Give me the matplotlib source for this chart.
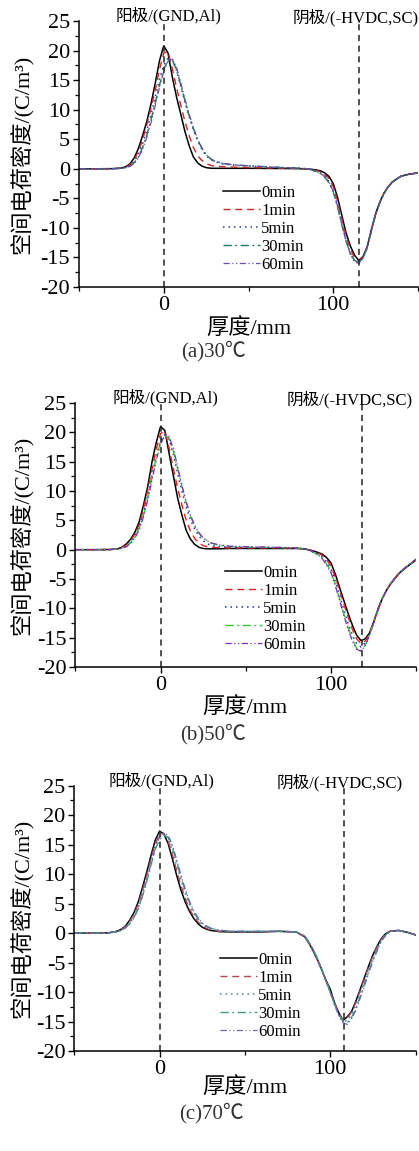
import matplotlib
matplotlib.use('Agg')
import matplotlib.pyplot as plt
from matplotlib.ticker import MultipleLocator, FixedLocator

plt.rcParams['font.family'] = ['Liberation Serif', 'Noto Sans CJK SC']
plt.rcParams['axes.unicode_minus'] = False

# ---------------- data ----------------
thickness = [-50, -40, -30,
             -25, -22.5, -20, -17.5, -15, -12.5, -10, -7.5, -5, -2.5, 0, 2.5, 5, 7.5, 10, 12.5, 15, 17.5, 20, 22.5, 25, 27.5, 30,
             35, 40, 45, 50, 60, 70, 80,
             85, 87.5, 90, 92.5, 95, 97.5, 100, 102.5, 105, 107.5, 110, 112.5, 115, 117.5, 120, 122.5, 125, 127.5, 130, 132.5, 135,
             140, 145, 150]
labels = ['0min', '1min', '5min', '30min', '60min']

# (a) 30 C
a_0min = [0, 0, 0.02,
          0.1, 0.35, 0.8, 1.8, 3.4, 5.6, 8.0, 11.0, 14.5, 18.3, 20.8, 19.6, 15.6, 12.2, 9.3, 6.3, 3.9, 2.0, 1.0, 0.45, 0.2, 0.1, 0.08,
          0.08, 0.08, 0.08, 0.08, 0.06, 0.05, 0.02,
          -0.05, -0.1, -0.2, -0.35, -0.7, -1.3, -2.5, -4.8, -7.8, -10.8, -13.0, -14.6, -15.5, -14.9, -13.2, -10.3, -7.6, -5.6, -4.1, -3.0, -2.2,
          -1.25, -0.9, -0.7]
a_1min = [0, 0, 0.02,
          0.1, 0.3, 0.65, 1.5, 2.9, 4.9, 7.4, 10.3, 13.4, 16.8, 19.6, 19.8, 17.0, 13.8, 10.8, 8.0, 5.6, 3.6, 2.2, 1.4, 0.9, 0.6, 0.45,
          0.35, 0.3, 0.25, 0.2, 0.15, 0.1, 0.05,
          -0.05, -0.15, -0.3, -0.5, -0.9, -1.7, -3.0, -5.4, -8.4, -11.3, -13.5, -15.0, -15.6, -15.0, -13.3, -10.4, -7.7, -5.7, -4.1, -3.0, -2.2,
          -1.25, -0.9, -0.7]
a_5min = [0, 0, 0.02,
          0.1, 0.25, 0.5, 1.2, 2.4, 4.2, 6.5, 9.2, 12.2, 15.2, 17.5, 18.7, 18.5, 16.7, 14.0, 11.3, 8.8, 6.6, 4.7, 3.3, 2.2, 1.6, 1.2,
          0.8, 0.65, 0.55, 0.45, 0.3, 0.2, 0.1,
          0.0, -0.15, -0.4, -0.7, -1.2, -2.2, -3.7, -6.2, -9.2, -12.0, -14.2, -15.5, -15.9, -15.2, -13.4, -10.5, -7.7, -5.7, -4.1, -3.0, -2.2,
          -1.25, -0.9, -0.7]
a_30min = [0, 0, 0.02,
           0.1, 0.2, 0.4, 1.0, 2.0, 3.6, 5.7, 8.3, 11.2, 14.2, 16.8, 18.4, 18.4, 16.8, 14.2, 11.5, 9.0, 6.8, 4.9, 3.5, 2.4, 1.7, 1.3,
           0.9, 0.7, 0.6, 0.5, 0.35, 0.2, 0.1,
           0.0, -0.2, -0.5, -0.8, -1.4, -2.4, -3.9, -6.4, -9.4, -12.2, -14.3, -15.5, -15.8, -15.1, -13.3, -10.4, -7.7, -5.7, -4.1, -3.0, -2.2,
           -1.25, -0.9, -0.7]
a_60min = [0, 0, 0.02,
           0.1, 0.2, 0.4, 0.9, 1.8, 3.3, 5.3, 7.8, 10.7, 13.8, 16.5, 18.2, 18.6, 17.2, 14.6, 11.8, 9.2, 6.9, 5.0, 3.5, 2.4, 1.7, 1.3,
           0.9, 0.7, 0.6, 0.5, 0.35, 0.2, 0.1,
           0.0, -0.2, -0.5, -0.8, -1.3, -2.3, -3.8, -6.3, -9.3, -12.2, -14.4, -15.7, -16.0, -15.2, -13.4, -10.5, -7.8, -5.7, -4.1, -3.0, -2.2,
           -1.25, -0.9, -0.7]

# (b) 50 C
b_0min = [0, 0, 0.02,
          0.15, 0.45, 1.0, 1.8, 3.0, 4.8, 7.6, 10.8, 15.0, 18.3, 21.0, 20.3, 16.4, 12.6, 8.8, 5.9, 3.3, 1.8, 0.9, 0.4, 0.2, 0.15, 0.15,
          0.15, 0.2, 0.2, 0.2, 0.2, 0.2, 0.2,
          0.1, -0.05, -0.25, -0.5, -0.8, -1.4, -2.3, -4.2, -6.5, -8.7, -10.9, -12.9, -14.6, -15.5, -15.2, -14.2, -12.3, -10.1, -8.3, -6.9, -5.8,
          -4.0, -2.8, -1.7]
b_1min = [0, 0, 0.02,
          0.1, 0.4, 0.8, 1.6, 2.7, 4.3, 7.0, 10.2, 13.8, 17.2, 19.8, 20.2, 17.3, 13.8, 10.5, 7.6, 5.0, 3.2, 1.9, 1.1, 0.7, 0.5, 0.4,
          0.35, 0.3, 0.3, 0.3, 0.3, 0.3, 0.25,
          0.1, -0.1, -0.3, -0.6, -1.0, -1.8, -2.8, -4.7, -7.0, -9.3, -11.5, -13.6, -15.2, -16.0, -15.6, -14.3, -12.3, -10.1, -8.3, -6.9, -5.7,
          -3.9, -2.7, -1.6]
b_5min = [0, 0, 0.02,
          0.1, 0.3, 0.6, 1.3, 2.3, 3.8, 6.2, 9.2, 12.6, 16.0, 18.6, 19.6, 18.8, 16.2, 13.0, 10.0, 7.3, 5.1, 3.5, 2.3, 1.5, 1.0, 0.7,
          0.5, 0.45, 0.4, 0.4, 0.4, 0.35, 0.3,
          0.1, -0.1, -0.4, -0.8, -1.3, -2.2, -3.4, -5.4, -7.8, -10.3, -12.6, -14.6, -16.0, -16.6, -15.9, -14.4, -12.4, -10.2, -8.3, -6.9, -5.7,
          -3.9, -2.7, -1.6]
b_30min = [0, 0, 0.02,
           0.1, 0.3, 0.6, 1.2, 2.2, 3.7, 6.0, 9.0, 12.4, 15.8, 18.4, 19.5, 19.0, 16.8, 13.8, 10.8, 8.0, 5.8, 4.0, 2.8, 2.0, 1.5, 1.1,
           0.7, 0.55, 0.5, 0.45, 0.4, 0.35, 0.3,
           0.1, -0.15, -0.5, -0.9, -1.5, -2.5, -3.8, -5.9, -8.4, -11.0, -13.3, -15.3, -16.8, -17.2, -16.3, -14.6, -12.5, -10.3, -8.4, -6.9, -5.7,
           -3.9, -2.7, -1.6]
b_60min = [0, 0, 0.02,
           0.1, 0.25, 0.5, 1.1, 2.0, 3.4, 5.6, 8.5, 11.9, 15.3, 18.0, 19.5, 19.3, 17.2, 14.2, 11.0, 8.2, 5.9, 4.1, 2.9, 2.0, 1.5, 1.1,
           0.8, 0.6, 0.55, 0.5, 0.45, 0.4, 0.3,
           0.1, -0.15, -0.5, -0.9, -1.6, -2.7, -4.0, -6.2, -8.7, -11.3, -13.6, -15.6, -17.0, -17.3, -16.4, -14.6, -12.5, -10.3, -8.4, -6.9, -5.7,
           -3.9, -2.7, -1.6]

# (c) 70 C
c_0min = [0, 0, 0.05,
          0.3, 0.65, 1.2, 2.2, 3.5, 5.3, 7.8, 10.4, 13.2, 15.8, 17.3, 16.8, 15.2, 12.6, 9.8, 7.3, 5.3, 3.7, 2.5, 1.6, 1.0, 0.65, 0.45,
          0.25, 0.2, 0.2, 0.2, 0.2, 0.3, 0.2,
          -0.6, -1.7, -3.0, -4.5, -6.2, -8.0, -9.5, -11.8, -13.5, -14.8, -14.2, -13.3, -11.6, -9.6, -7.6, -5.6, -3.7, -2.2, -0.9, -0.1, 0.3,
          0.45, 0.15, -0.3]
c_1min = [0, 0, 0.05,
          0.3, 0.6, 1.1, 2.0, 3.2, 4.9, 7.3, 9.9, 12.7, 15.2, 16.8, 16.9, 15.6, 13.3, 10.6, 8.1, 5.9, 4.1, 2.8, 1.9, 1.2, 0.8, 0.5,
          0.3, 0.25, 0.25, 0.25, 0.25, 0.3, 0.2,
          -0.6, -1.7, -2.9, -4.5, -6.2, -8.0, -9.9, -11.9, -13.6, -14.8, -14.4, -13.4, -11.8, -9.8, -7.8, -5.8, -3.9, -2.3, -1.0, -0.2, 0.3,
          0.45, 0.15, -0.3]
c_5min = [0, 0, 0.05,
          0.25, 0.5, 1.0, 1.8, 2.9, 4.5, 6.8, 9.4, 12.2, 14.8, 16.5, 16.9, 16.0, 14.0, 11.5, 9.0, 6.7, 4.8, 3.3, 2.2, 1.5, 1.0, 0.7,
          0.4, 0.3, 0.3, 0.3, 0.3, 0.3, 0.2,
          -0.5, -1.6, -2.9, -4.5, -6.3, -8.2, -10.1, -12.1, -13.9, -15.0, -14.8, -13.8, -12.2, -10.2, -8.2, -6.1, -4.2, -2.5, -1.1, -0.2, 0.3,
          0.45, 0.15, -0.3]
c_30min = [0, 0, 0.05,
           0.2, 0.45, 0.9, 1.6, 2.6, 4.1, 6.3, 8.8, 11.6, 14.2, 15.9, 16.6, 16.2, 14.5, 12.1, 9.5, 7.2, 5.2, 3.6, 2.4, 1.6, 1.1, 0.8,
           0.45, 0.35, 0.3, 0.3, 0.3, 0.3, 0.2,
           -0.5, -1.5, -2.7, -4.3, -6.1, -8.0, -10.0, -12.0, -13.8, -15.0, -15.2, -14.3, -12.8, -10.8, -8.7, -6.6, -4.6, -2.8, -1.3, -0.3, 0.3,
           0.45, 0.15, -0.3]
c_60min = [0, 0, 0.05,
           0.2, 0.45, 0.9, 1.6, 2.7, 4.2, 6.4, 9.0, 11.8, 14.5, 16.3, 17.0, 16.6, 14.9, 12.5, 9.9, 7.5, 5.4, 3.8, 2.6, 1.7, 1.2, 0.85,
           0.5, 0.35, 0.3, 0.3, 0.3, 0.3, 0.2,
           -0.5, -1.5, -2.8, -4.4, -6.2, -8.1, -10.1, -12.1, -14.0, -15.2, -15.5, -14.6, -13.1, -11.1, -9.0, -6.9, -4.8, -3.0, -1.4, -0.4, 0.25,
           0.45, 0.15, -0.3]

anode_pos = 0
cathode_pos = [115.3, 118.2, 107.8]
captions = ['(a)30\u2103', '(b)50\u2103', '(c)70\u2103']

# ---------------- layout ----------------
W, H = 419, 1151
fig = plt.figure(figsize=(W / 100, H / 100), dpi=100)

def fx(px):
    return px / W

def fy(py):
    return 1 - py / H

styles = [
    dict(ls='-', lw=1.1),
    dict(ls=(0, (5, 3.5)), lw=1.0),
    dict(ls=(0, (1, 2.6)), lw=1.1),
    dict(ls=(0, (6, 2.5, 1.3, 2.5)), lw=1.0),
    dict(ls=(0, (5, 2, 1, 2, 1, 2)), lw=0.9),
]

panels = [
    dict(box=(79, 21, 418, 287), series=[a_0min, a_1min, a_5min, a_30min, a_60min],
         colors=['#000000', '#c62828', '#23409a', '#1f7a55', '#6b4fa8'],
         leg=(0.425, 0.385), xlab=(249, 328), cap=(214, 351), anode_dx=5, cath_dx=-3),
    dict(box=(75.3, 403, 416.4, 667), series=[b_0min, b_1min, b_5min, b_30min, b_60min],
         colors=['#000000', '#e0201f', '#2233aa', '#33c833', '#8a2bc0'],
         leg=(0.439, 0.388), xlab=(245, 707), cap=(213, 734), anode_dx=5, cath_dx=-12),
    dict(box=(74.3, 785.7, 415.5, 1051), series=[c_0min, c_1min, c_5min, c_30min, c_60min],
         colors=['#000000', '#b5434f', '#4a7fa5', '#3f9b7f', '#6767ad'],
         leg=(0.427, 0.375), xlab=(245, 1087), cap=(212, 1113), anode_dx=2, cath_dx=-4),
]

for i, p in enumerate(panels):
    l, t, r, b = p['box']
    ax = fig.add_axes([fx(l), fy(b), (r - l) / W, (b - t) / H])
    for ser, col, st, lab in zip(p['series'], p['colors'], styles, labels):
        ax.plot(thickness, ser, color=col, linestyle=st['ls'], lw=st['lw'], label=lab)
    ax.axvline(anode_pos, color='#222222', ls=(0, (4, 3)), lw=1.1)
    ax.axvline(cathode_pos[i], color='#222222', ls=(0, (4, 3)), lw=1.1)
    ax.set_xlim(-50, 150)
    ax.set_ylim(-20, 25)
    ax.xaxis.set_major_locator(FixedLocator([0, 100]))
    ax.xaxis.set_minor_locator(FixedLocator([-50, 50, 150]))
    ax.yaxis.set_major_locator(MultipleLocator(5))
    ax.yaxis.set_minor_locator(MultipleLocator(2.5))
    for s in ['top', 'right']:
        ax.spines[s].set_visible(False)
    for s in ['left', 'bottom']:
        ax.spines[s].set_linewidth(1.1)
    ax.tick_params(which='major', direction='out', length=4.5, width=1.0, labelsize=16, pad=2)
    ax.tick_params(which='minor', direction='out', length=2.8, width=0.9)
    ax.annotate('阳极/(GND,Al)', xy=(anode_pos, 1.0), xycoords=('data', 'axes fraction'),
                xytext=(p['anode_dx'], 5), textcoords='offset pixels', ha='center', va='center', fontsize=12)
    ax.annotate('阴极/(-HVDC,SC)', xy=(cathode_pos[i], 1.0), xycoords=('data', 'axes fraction'),
                xytext=(p['cath_dx'], 3), textcoords='offset pixels', ha='center', va='center', fontsize=12,
                annotation_clip=False)
    ax.legend(loc='upper left', bbox_to_anchor=p['leg'], frameon=False, fontsize=12,
              handlelength=2.2, handletextpad=0.1, labelspacing=0.12, borderpad=0, borderaxespad=0)
    fig.text(fx(22), fy((t + b) / 2), '空间电荷密度/(C/m³)', rotation=90, ha='center', va='center', fontsize=16)
    fig.text(fx(p['xlab'][0]), fy(p['xlab'][1]), '厚度/mm', ha='center', va='center', fontsize=16)
    fig.text(fx(p['cap'][0]), fy(p['cap'][1]), captions[i], ha='center', va='center', fontsize=15, color='#333333')

fig.savefig('out.png', dpi=100)
